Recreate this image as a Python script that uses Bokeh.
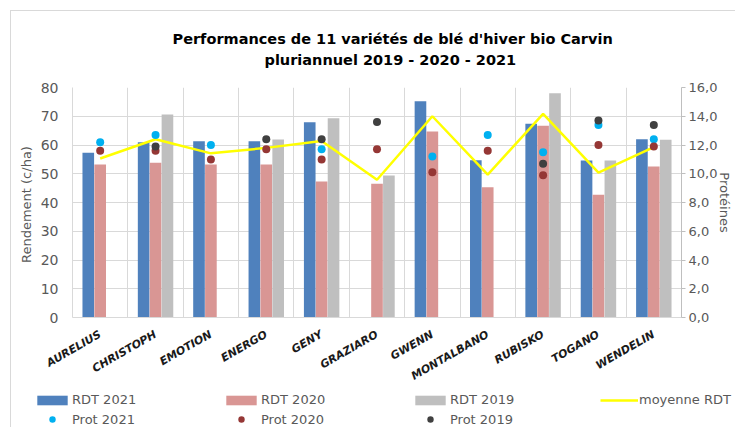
import math
from bokeh.plotting import figure
from bokeh.models import (Range1d, LinearAxis, FixedTicker, Legend, LegendItem,
                          ColumnDataSource, Title)
from bokeh.transform import dodge
from bokeh.embed import file_html
from bokeh.resources import INLINE

NaN = float("nan")

varieties = ["AURELIUS", "CHRISTOPH", "EMOTION", "ENERGO", "GENY", "GRAZIARO",
             "GWENN", "MONTALBANO", "RUBISKO", "TOGANO", "WENDELIN"]
rdt_2021 = [57.3, 61.0, 61.3, 61.3, 67.9, NaN, 75.2, 54.7, 67.4, 54.6, 62.0]
rdt_2020 = [53.2, 53.8, 53.2, 53.2, 47.3, 46.5, 64.7, 45.3, 66.7, 42.7, 52.5]
rdt_2019 = [NaN, 70.6, NaN, 61.9, 69.3, 49.4, NaN, NaN, 78.0, 54.6, 61.8]
moyenne_rdt = [55.3, 62.0, 57.1, 59.0, 61.4, 47.9, 70.0, 49.7, 70.8, 50.4, 59.3]
prot_2021 = [12.2, 12.7, 12.0, NaN, 11.7, NaN, 11.2, 12.7, 11.5, 13.4, 12.4]
prot_2020 = [11.6, 11.6, 11.0, 11.7, 11.0, 11.7, 10.1, 11.6, 9.9, 12.0, 11.9]
prot_2019 = [NaN, 11.9, NaN, 12.4, 12.4, 13.6, NaN, NaN, 10.7, 13.7, 13.4]
left_ticks = [0, 10, 20, 30, 40, 50, 60, 70, 80]
right_ticks = [0, 2, 4, 6, 8, 10, 12, 14, 16]
title_line1 = "Performances de 11 variétés de blé d'hiver bio Carvin"
title_line2 = "pluriannuel  2019 - 2020 - 2021"

FONT = "DejaVu Sans"
GREY_TXT = "#595959"
GRID = "#d9d9d9"
C21, C20, C19 = "#4f81bd", "#d99694", "#bfbfbf"
P21, P20, P19 = "#00b0f0", "#953735", "#404040"
YELLOW = "#ffff00"

n = len(varieties)
xs = list(range(n))
src = ColumnDataSource(dict(x=xs, r21=rdt_2021, r20=rdt_2020, r19=rdt_2019,
                            moy=moyenne_rdt, p21=prot_2021, p20=prot_2020,
                            p19=prot_2019))

p = figure(width=735, height=391, x_range=Range1d(-0.5, n - 0.5),
           y_range=Range1d(left_ticks[0], left_ticks[-1]),
           output_backend="svg", toolbar_location=None,
           min_border_left=72, min_border_right=42, min_border_top=87,
           min_border_bottom=74)
p.extra_y_ranges = {"prot": Range1d(right_ticks[0], right_ticks[-1])}
p.outline_line_color = None
p.border_fill_alpha = 0
p.styles = {"box-shadow": "inset 10px 10px 0 #ffffff, inset 11px 11px 0 #d9d9d9"}

# titles: p.title outermost; added items stack outward from the plot
p.title.text = title_line1
p.title.align = "left"
p.title.text_font = FONT
p.title.text_font_style = "bold"
p.title.text_font_size = "14.5px"
p.title.text_color = "#000000"
p.title.standoff = 3
p.title.offset = 100
spacer = Title(text=" ", text_font=FONT, text_font_size="1px", standoff=16)
p.add_layout(spacer, "above")
t2 = Title(text=title_line2, align="left", text_font=FONT,
           text_font_style="bold", text_font_size="14.5px", text_color="#000000",
           standoff=2, offset=192)
p.add_layout(t2, "above")

# grids
p.ygrid.ticker = FixedTicker(ticks=left_ticks)
p.ygrid.grid_line_color = GRID
p.xgrid.ticker = FixedTicker(ticks=[i - 0.5 for i in range(n + 1)])
p.xgrid.grid_line_color = GRID

# x axis
xa = p.xaxis[0]
xa.ticker = FixedTicker(ticks=xs)
xa.major_label_overrides = {i: v for i, v in enumerate(varieties)}
xa.major_label_orientation = math.pi / 6
xa.major_label_text_font = FONT
xa.major_label_text_font_style = "bold italic"
xa.major_label_text_font_size = "11px"
xa.major_label_text_color = "#1a1a1a"
xa.major_label_standoff = 16
xa.major_tick_in = 0
xa.major_tick_out = 0
xa.minor_tick_line_color = None
xa.axis_line_color = GRID

# left axis
ya = p.yaxis[0]
ya.ticker = FixedTicker(ticks=left_ticks)
ya.axis_label = "Rendement  (c/ha)"
ya.axis_label_text_font = FONT
ya.axis_label_text_font_style = "normal"
ya.axis_label_text_font_size = "13px"
ya.axis_label_text_color = GREY_TXT
ya.axis_label_standoff = 4
ya.major_label_text_font = FONT
ya.major_label_text_font_size = "14px"
ya.major_label_text_color = GREY_TXT
ya.major_label_standoff = 14
ya.major_tick_in = 0
ya.major_tick_out = 0
ya.minor_tick_line_color = None
ya.axis_line_color = GRID

# right axis
ra = LinearAxis(y_range_name="prot", ticker=FixedTicker(ticks=right_ticks))
ra.major_label_overrides = {t: f"{t:.1f}".replace(".", ",") for t in right_ticks}
ra.axis_label = "Protéines"
ra.axis_label_text_font = FONT
ra.axis_label_text_font_style = "normal"
ra.axis_label_text_font_size = "13px"
ra.axis_label_text_color = GREY_TXT
ra.axis_label_standoff = -3
ra.major_label_text_font = FONT
ra.major_label_text_font_size = "13px"
ra.major_label_text_color = GREY_TXT
ra.major_label_standoff = 3
ra.major_tick_in = 0
ra.major_tick_out = 4
ra.major_tick_line_color = "#bfbfbf"
ra.minor_tick_line_color = None
ra.axis_line_color = "#bfbfbf"
p.add_layout(ra, "right")

# bars
bw = 0.21
p.vbar(x=dodge("x", -0.215), top="r21", width=bw, source=src,
       fill_color=C21, line_color=None)
p.vbar(x=dodge("x", 0.0), top="r20", width=bw, source=src,
       fill_color=C20, line_color=None)
p.vbar(x=dodge("x", 0.215), top="r19", width=bw, source=src,
       fill_color=C19, line_color=None)

p.line(x="x", y="moy", source=src, line_color=YELLOW, line_width=2.5)

p.scatter(x="x", y="p21", source=src, y_range_name="prot", size=8,
          fill_color=P21, line_color=None)
p.scatter(x="x", y="p20", source=src, y_range_name="prot", size=8,
          fill_color=P20, line_color=None)
p.scatter(x="x", y="p19", source=src, y_range_name="prot", size=8,
          fill_color=P19, line_color=None)

# legend strip: its own small figure (separate root), legend inside its frame
lp = figure(width=735, height=36, x_range=Range1d(0, 1), y_range=Range1d(0, 1),
            output_backend="svg", toolbar_location=None,
            x_axis_location=None, y_axis_location=None, title_location=None,
            min_border_left=0, min_border_right=0, min_border_top=0,
            min_border_bottom=0)
lp.grid.visible = False
lp.outline_line_color = None
lp.border_fill_alpha = 0
lp.background_fill_alpha = 0
lp.styles = {"box-shadow": "inset 10px 0 0 #ffffff, inset 11px 0 0 #d9d9d9"}

# legend proxies (no visible data points, only their styles are used)
proxy = ColumnDataSource(dict(x=[NaN], y=[NaN]))
lb21 = lp.vbar(x="x", top="y", width=0.1, source=proxy, fill_color=C21, line_color=None)
lb20 = lp.vbar(x="x", top="y", width=0.1, source=proxy, fill_color=C20, line_color=None)
lb19 = lp.vbar(x="x", top="y", width=0.1, source=proxy, fill_color=C19, line_color=None)
lln = lp.line(x="x", y="y", source=proxy, line_color=YELLOW, line_width=2.5)
ls21 = lp.scatter(x="x", y="y", source=proxy, size=8, fill_color=P21, line_color=None)
ls20 = lp.scatter(x="x", y="y", source=proxy, size=8, fill_color=P20, line_color=None)
ls19 = lp.scatter(x="x", y="y", source=proxy, size=8, fill_color=P19, line_color=None)


def make_legend(items, loc, glyph_h):
    lg = Legend(items=items, location=loc, orientation="horizontal")
    lg.glyph_width = 38
    lg.glyph_height = glyph_h
    lg.label_standoff = 1
    lg.label_width = 140
    lg.label_height = 14
    lg.spacing = 10
    lg.padding = 0
    lg.margin = 0
    lg.border_line_color = None
    lg.background_fill_alpha = 0
    lg.label_text_font = FONT
    lg.label_text_font_size = "13px"
    lg.label_text_color = GREY_TXT
    return lg


leg1 = make_legend([LegendItem(label="RDT 2021", renderers=[lb21]),
                    LegendItem(label="RDT 2020", renderers=[lb20]),
                    LegendItem(label="RDT 2019", renderers=[lb19]),
                    LegendItem(label="moyenne RDT", renderers=[lln])], (33, 20), 12)
leg2 = make_legend([LegendItem(label="Prot 2021", renderers=[ls21]),
                    LegendItem(label="Prot 2020", renderers=[ls20]),
                    LegendItem(label="Prot 2019", renderers=[ls19])], (33, 0), 16)
lp.add_layout(leg1)
lp.add_layout(leg2)

open("out.html", "w").write(file_html([p, lp], INLINE))
